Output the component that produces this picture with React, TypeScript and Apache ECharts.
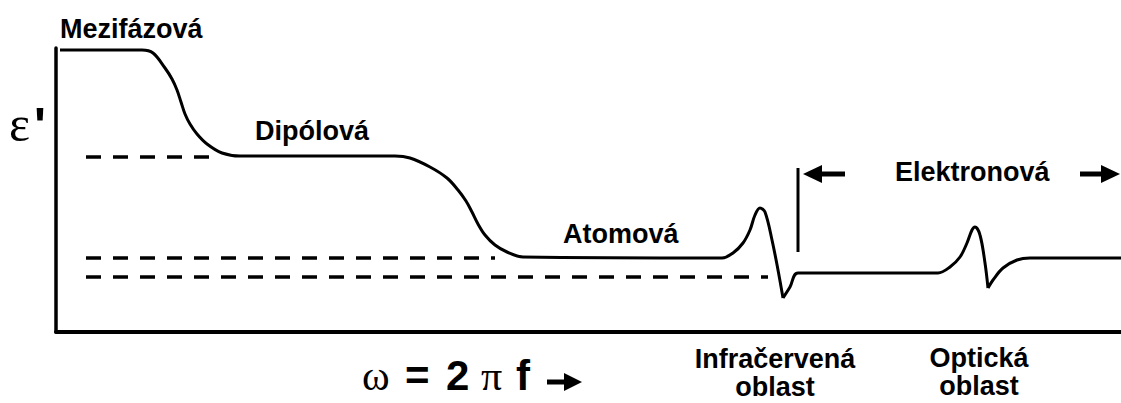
import React, { useEffect, useRef } from "react";
import * as echarts from "echarts";

// Dispersion of the real permittivity ε' over log-frequency (arbitrary units).
// Relaxation steps: interfacial -> dipolar -> atomic, ending at the infrared resonance minimum.
const relaxationCurve: [number, number][] = [
  [0.4, 28.2], [8.6, 28.2], [9.7, 27.9], [10.9, 26.4], [11.6, 25.3], [12.1, 24.2],
  [12.5, 23.0], [12.9, 21.8], [13.4, 20.8], [14.1, 19.8], [15.1, 18.8], [16.6, 17.9],
  [18.4, 17.6], [33.9, 17.6], [35.4, 17.4], [37.4, 16.5], [39.1, 15.4], [40.2, 14.2],
  [41.0, 13.1], [41.6, 12.0], [42.2, 10.8], [42.9, 9.7], [43.9, 8.7], [45.1, 8.0],
  [46.7, 7.5], [66.6, 7.4], [67.7, 7.9], [68.7, 8.9], [69.4, 10.2], [69.9, 11.7],
  [70.4, 12.4], [70.9, 12.0], [71.6, 9.2], [72.2, 6.2], [72.7, 3.4],
];
// From the infrared minimum through the electronic plateau to the optical minimum.
const infraredCurve: [number, number][] = [
  [72.7, 3.4], [73.4, 4.5], [74.2, 5.9], [88.2, 5.9], [89.4, 6.5], [90.4, 7.5],
  [91.1, 8.9], [91.6, 10.2], [91.9, 10.5], [92.4, 9.7], [92.9, 6.9], [93.2, 4.4],
];
// Recovery after the optical resonance.
const opticalCurve: [number, number][] = [
  [93.2, 4.4], [93.7, 5.2], [94.7, 6.4], [96.1, 7.2], [97.4, 7.4], [106.5, 7.4],
];

// Dashed reference levels
const dashDipolar: [number, number][] = [[3.0, 17.5], [15.4, 17.5]];
const dashAtomic: [number, number][] = [[3.0, 7.4], [43.9, 7.4]];
const dashElectronic: [number, number][] = [[3.0, 5.5], [71.2, 5.5]];

const X_MAX = 106.5;
const Y_MAX = 28.4;

const SANS = "'Liberation Sans', Arial, sans-serif";
const SERIF = "'Liberation Serif', 'Times New Roman', serif";

const label = (text: string, x: number, y: number, size = 27, align = "left", lineHeight?: number) => ({
  type: "text",
  silent: true,
  style: {
    text,
    x,
    y,
    fill: "#000",
    font: `bold ${size}px ${SANS}`,
    align,
    verticalAlign: "middle",
    ...(lineHeight ? { lineHeight } : {}),
  },
});

const serifLabel = (text: string, x: number, y: number, size: number) => ({
  type: "text",
  silent: true,
  style: {
    text,
    x,
    y,
    fill: "#000",
    font: `${size}px ${SERIF}`,
    align: "left",
    verticalAlign: "middle",
  },
});

const arrow = (shaftFrom: number, shaftTo: number, tip: number, base: number, y: number, half: number) => [
  {
    type: "line",
    silent: true,
    shape: { x1: shaftFrom, y1: y, x2: shaftTo, y2: y },
    style: { stroke: "#000", lineWidth: 5 },
  },
  {
    type: "polygon",
    silent: true,
    shape: { points: [[tip, y], [base, y - half], [base, y + half]] },
    style: { fill: "#000" },
  },
];

const curveSeries = (data: [number, number][]) => ({
  type: "line",
  data,
  smooth: 0.35,
  showSymbol: false,
  silent: true,
  lineStyle: { color: "#000", width: 3 },
});

const dashSeries = (data: [number, number][]) => ({
  type: "line",
  data,
  showSymbol: false,
  silent: true,
  lineStyle: { color: "#000", width: 3.5, type: [15, 12], cap: "butt" },
});

export default function App() {
  const ref = useRef<HTMLDivElement>(null);

  useEffect(() => {
    if (!ref.current) return;
    const chart = echarts.init(ref.current, undefined, { renderer: "svg" });
    chart.setOption({
      animation: false,
      backgroundColor: "#fff",
      grid: { left: 56, right: 0, top: 48, bottom: 71 },
      xAxis: {
        type: "value",
        min: 0,
        max: X_MAX,
        axisLine: { show: true, lineStyle: { color: "#000", width: 4 } },
        axisTick: { show: false },
        axisLabel: { show: false },
        splitLine: { show: false },
      },
      yAxis: {
        type: "value",
        min: 0,
        max: Y_MAX,
        axisLine: { show: true, lineStyle: { color: "#000", width: 3.5 } },
        axisTick: { show: false },
        axisLabel: { show: false },
        splitLine: { show: false },
      },
      series: [
        dashSeries(dashDipolar),
        dashSeries(dashAtomic),
        dashSeries(dashElectronic),
        curveSeries(relaxationCurve),
        curveSeries(infraredCurve),
        curveSeries(opticalCurve),
      ],
      graphic: [
        serifLabel("ε", 9, 124, 50),
        label("'", 34, 126, 50),
        label("Mezifázová", 60, 29),
        label("Dipólová", 255, 131),
        label("Atomová", 563, 234),
        label("Elektronová", 895, 172),
        label("Infračervená\noblast", 775, 373, 27, "center", 28),
        label("Optická\noblast", 979, 372, 27, "center", 28),
        // ω = 2 π f →
        serifLabel("ω", 362, 376, 42),
        label("=", 405, 375, 42),
        label("2", 446, 375, 42),
        serifLabel("π", 481, 376, 42),
        label("f", 516, 375, 42),
        ...arrow(547, 566, 582, 564, 382, 9),
        // boundary of the electronic region
        {
          type: "line",
          silent: true,
          shape: { x1: 798, y1: 168, x2: 798, y2: 252 },
          style: { stroke: "#000", lineWidth: 3 },
        },
        ...arrow(820, 845, 803, 822, 174, 9),
        ...arrow(1080, 1103, 1120, 1101, 174, 9),
      ],
    });
    return () => chart.dispose();
  }, []);

  return (
    <div
      ref={ref}
      style={{ position: "absolute", left: 0, top: 0, width: 1121, height: 403, background: "#fff" }}
    />
  );
}
